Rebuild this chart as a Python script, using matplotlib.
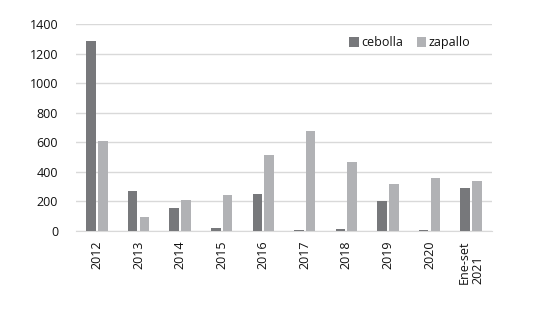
import numpy as np
import matplotlib.pyplot as plt

# Valores anuales (toneladas) por producto
years = ['2012', '2013', '2014', '2015', '2016', '2017', '2018', '2019', '2020',
         'Ene-set\n2021']
cebolla = [1285, 269, 154, 18, 249, 2, 12, 199, 5, 287]
zapallo = [607, 93, 208, 242, 515, 677, 465, 314, 355, 337]

plt.rcParams['font.family'] = ['Open Sans', 'DejaVu Sans']

fig = plt.figure(figsize=(5.52, 3.25), dpi=100)
ax = fig.add_axes([0.138, 0.29, 0.753, 0.636])

x = np.arange(len(years))
width = 0.23
ax.bar(x - width / 2 - 0.025, cebolla, width, color='#77787b', label='cebolla',
       zorder=3)
ax.bar(x + width / 2 + 0.025, zapallo, width, color='#b1b2b5', label='zapallo',
       zorder=3)

ax.set_xlim(-0.5, len(years) - 0.5)
ax.set_ylim(0, 1400)
ax.set_yticks(range(0, 1401, 200))
ax.yaxis.grid(True, color='#d9d9d9', linewidth=1, zorder=0)
ax.set_xticks(x)
ax.set_xticklabels(years, rotation=90, va='top', ha='center',
                   multialignment='left', linespacing=1.0)
ax.tick_params(axis='both', length=0, labelsize=9, colors='#111111')
ax.tick_params(axis='x', pad=7)
ax.tick_params(axis='y', pad=13)
for side in ['top', 'right', 'left']:
    ax.spines[side].set_visible(False)
ax.spines['bottom'].set_color('#d9d9d9')

ax.legend(loc='upper right', bbox_to_anchor=(0.975, 0.995), ncol=2, frameon=False,
          fontsize=9, handlelength=0.75, handleheight=0.75, handletextpad=0.2,
          columnspacing=1.1, labelcolor='#111111')

fig.savefig('out.png', dpi=100)
